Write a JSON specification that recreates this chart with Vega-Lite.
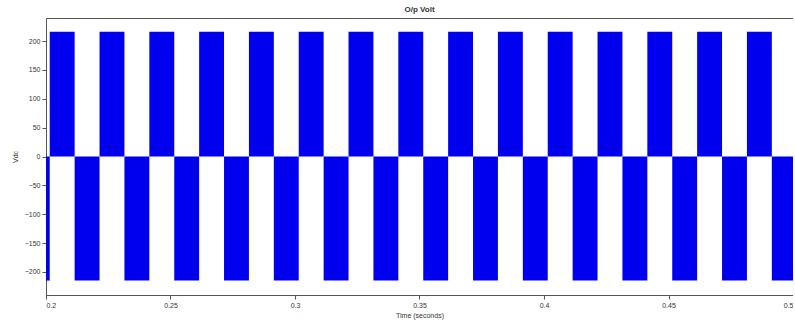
{
  "$schema": "https://vega.github.io/schema/vega-lite/v6.json",
  "autosize": "none",
  "width": 747,
  "height": 277,
  "padding": {"left": 46, "top": 18, "right": 0, "bottom": 27},
  "background": "white",
  "config": {
    "view": {"stroke": "#555555", "strokeWidth": 1},
    "font": "Liberation Sans",
    "axis": {"grid": false, "domainColor": "#555555", "tickColor": "#555555", "labelColor": "#333333", "titleColor": "#333333", "labelFontSize": 7, "titleFontSize": 7, "titleFontWeight": "normal"}
  },
  "title": {"text": "O/p Volt", "fontSize": 8, "fontWeight": "bold", "color": "#333333", "offset": 4, "anchor": "middle"},
  "data": {"values": [
    {"t0": 0.2, "t1": 0.2015, "v": -215},
    {"t0": 0.2015, "t1": 0.2115, "v": 216},
    {"t0": 0.2115, "t1": 0.2215, "v": -215},
    {"t0": 0.2215, "t1": 0.2315, "v": 216},
    {"t0": 0.2315, "t1": 0.2415, "v": -215},
    {"t0": 0.2415, "t1": 0.2515, "v": 216},
    {"t0": 0.2515, "t1": 0.2615, "v": -215},
    {"t0": 0.2615, "t1": 0.2715, "v": 216},
    {"t0": 0.2715, "t1": 0.2815, "v": -215},
    {"t0": 0.2815, "t1": 0.2915, "v": 216},
    {"t0": 0.2915, "t1": 0.3015, "v": -215},
    {"t0": 0.3015, "t1": 0.3115, "v": 216},
    {"t0": 0.3115, "t1": 0.3215, "v": -215},
    {"t0": 0.3215, "t1": 0.3315, "v": 216},
    {"t0": 0.3315, "t1": 0.3415, "v": -215},
    {"t0": 0.3415, "t1": 0.3515, "v": 216},
    {"t0": 0.3515, "t1": 0.3615, "v": -215},
    {"t0": 0.3615, "t1": 0.3715, "v": 216},
    {"t0": 0.3715, "t1": 0.3815, "v": -215},
    {"t0": 0.3815, "t1": 0.3915, "v": 216},
    {"t0": 0.3915, "t1": 0.4015, "v": -215},
    {"t0": 0.4015, "t1": 0.4115, "v": 216},
    {"t0": 0.4115, "t1": 0.4215, "v": -215},
    {"t0": 0.4215, "t1": 0.4315, "v": 216},
    {"t0": 0.4315, "t1": 0.4415, "v": -215},
    {"t0": 0.4415, "t1": 0.4515, "v": 216},
    {"t0": 0.4515, "t1": 0.4615, "v": -215},
    {"t0": 0.4615, "t1": 0.4715, "v": 216},
    {"t0": 0.4715, "t1": 0.4815, "v": -215},
    {"t0": 0.4815, "t1": 0.4915, "v": 216},
    {"t0": 0.4915, "t1": 0.5, "v": -215}
  ]},
  "mark": {"type": "rect", "color": "#0000ee"},
  "encoding": {
    "x": {"field": "t0", "type": "quantitative", "scale": {"domain": [0.2, 0.5], "nice": false, "zero": false},
          "axis": {"values": [0.2, 0.25, 0.3, 0.35, 0.4, 0.45, 0.5], "format": "~g", "title": "Time (seconds)", "tickSize": 4, "labelPadding": 2, "titlePadding": 3}},
    "x2": {"field": "t1"},
    "y": {"field": "v", "type": "quantitative", "scale": {"domain": [-240, 240], "nice": false},
          "axis": {"values": [-200, -150, -100, -50, 0, 50, 100, 150, 200], "title": "Vdc", "tickSize": 4, "labelPadding": 2, "titlePadding": 6}},
    "y2": {"datum": 0}
  }
}
